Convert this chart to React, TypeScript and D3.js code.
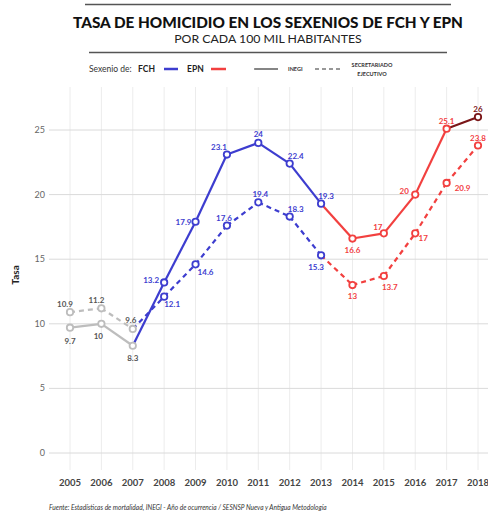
import { useEffect, useRef } from "react";
import * as d3 from "d3";

const years = [2005, 2006, 2007, 2008, 2009, 2010, 2011, 2012, 2013, 2014, 2015, 2016, 2017, 2018];
// INEGI (solid) and Secretariado Ejecutivo (dashed)
const inegi = [9.7, 10, 8.3, 13.2, 17.9, 23.1, 24, 22.4, 19.3, 16.6, 17, 20, 25.1, 26];
const sesnsp = [10.9, 11.2, 9.6, 12.1, 14.6, 17.6, 19.4, 18.3, 15.3, 13, 13.7, 17, 20.9, 23.8];
const yTicks = [0, 5, 10, 15, 20, 25];

// label nudges (dx, dy) per point
const inegiLabelPos = [
  [0, 13], [-3, 12], [0, 12], [-13, -2], [-12, 0], [-8, -8],
  [0, -9], [6, -8], [5, -8], [0, 11], [-6, -6], [-11, -4], [0, -8], [0, -8],
];
const sesnspLabelPos = [
  [-5, -8], [-5, -8], [-2, -9], [8, 7], [10, 8], [-3, -8],
  [2, -8], [6, -8], [-5, 12], [0, 11], [6, 11], [8, 5], [16, 5], [0, -8],
];

const GRAY = "#bdbdbd";
const BLUE = "#3d3dcf";
const RED = "#f2403f";
const DARKRED = "#7a1618";

function pointColor(i: number, solid: boolean) {
  if (i <= 2) return GRAY;
  if (i <= 8) return BLUE;
  if (i === 13 && solid) return DARKRED;
  return RED;
}
function segColor(i: number, solid: boolean) {
  // segment from point i to i+1
  if (i < 2) return GRAY;
  if (i < 8) return BLUE;
  if (i === 12 && solid) return DARKRED;
  return RED;
}

export default function App() {
  const ref = useRef<SVGGElement>(null);

  useEffect(() => {
    const svg = d3.select(ref.current);
    svg.selectAll("*").remove();
    const font = "Lato, 'Open Sans', sans-serif";

    const x = d3.scaleLinear().domain([2005, 2018]).range([70, 478]);
    const y = d3.scaleLinear().domain([0, 25]).range([453, 130]);

    // titles
    svg.append("text").attr("x", 268).attr("y", 28).attr("text-anchor", "middle")
      .attr("font-family", font).attr("font-weight", 900).attr("font-size", 15.3)
      .attr("fill", "#111").text("TASA DE HOMICIDIO EN LOS SEXENIOS DE FCH Y EPN");
    svg.append("text").attr("x", 268).attr("y", 43).attr("text-anchor", "middle")
      .attr("font-family", font).attr("font-size", 12.3)
      .attr("fill", "#222").text("POR CADA 100 MIL HABITANTES");

    // legend
    const lg = svg.append("g").attr("font-family", font);
    lg.append("text").attr("x", 89).attr("y", 72).attr("font-size", 8.5).attr("fill", "#333").text("Sexenio de:");
    lg.append("text").attr("x", 138).attr("y", 72).attr("font-size", 8.5).attr("font-weight", 700).attr("fill", "#222").text("FCH");
    lg.append("line").attr("x1", 164).attr("x2", 178).attr("y1", 69).attr("y2", 69).attr("stroke", BLUE).attr("stroke-width", 2.5);
    lg.append("text").attr("x", 187).attr("y", 72).attr("font-size", 8.5).attr("font-weight", 700).attr("fill", "#222").text("EPN");
    lg.append("line").attr("x1", 211).attr("x2", 226).attr("y1", 69).attr("y2", 69).attr("stroke", RED).attr("stroke-width", 2.5);
    lg.append("line").attr("x1", 254).attr("x2", 278).attr("y1", 69).attr("y2", 69).attr("stroke", "#333").attr("stroke-width", 1.2);
    lg.append("text").attr("x", 288).attr("y", 71).attr("font-size", 5.5).attr("font-weight", 700).attr("fill", "#333").text("INEGI");
    lg.append("line").attr("x1", 315).attr("x2", 341).attr("y1", 69).attr("y2", 69).attr("stroke", "#333")
      .attr("stroke-width", 1.2).attr("stroke-dasharray", "4,3");
    lg.append("text").attr("x", 372).attr("y", 67).attr("text-anchor", "middle").attr("font-size", 5.5).attr("font-weight", 700).attr("fill", "#333").text("SECRETARIADO");
    lg.append("text").attr("x", 372).attr("y", 76).attr("text-anchor", "middle").attr("font-size", 5.5).attr("font-weight", 700).attr("fill", "#333").text("EJECUTIVO");

    // grid
    const grid = svg.append("g");
    grid.selectAll(".vg").data(years).enter().append("line")
      .attr("x1", (d) => x(d)).attr("x2", (d) => x(d)).attr("y1", 87).attr("y2", 470)
      .attr("stroke", "#ececec").attr("stroke-width", 1);
    grid.selectAll(".hg").data(yTicks).enter().append("line")
      .attr("x1", 49).attr("x2", 488).attr("y1", (d) => y(d)).attr("y2", (d) => y(d))
      .attr("stroke", "#dadada").attr("stroke-width", 1);
    grid.selectAll(".yt").data(yTicks).enter().append("text")
      .attr("x", 45).attr("y", (d) => y(d) + 3).attr("text-anchor", "end")
      .attr("font-family", font).attr("font-size", 9).attr("fill", "#666").text((d) => d);
    grid.selectAll(".xt").data(years).enter().append("text")
      .attr("x", (d) => x(d)).attr("y", 486).attr("text-anchor", "middle")
      .attr("font-family", font).attr("font-weight", 700).attr("font-size", 9.5).attr("fill", "#444").text((d) => d);

    svg.append("text").attr("transform", "translate(19,275) rotate(-90)").attr("text-anchor", "middle")
      .attr("font-family", font).attr("font-weight", 700).attr("font-size", 10).attr("fill", "#222").text("Tasa");

    const drawSeries = (vals: number[], solid: boolean, pos: number[][]) => {
      const g = svg.append("g");
      const segs = d3.range(vals.length - 1);
      g.selectAll("line").data(segs).enter().append("line")
        .attr("x1", (i) => x(years[i])).attr("y1", (i) => y(vals[i]))
        .attr("x2", (i) => x(years[i + 1])).attr("y2", (i) => y(vals[i + 1]))
        .attr("stroke", (i) => segColor(i, solid))
        .attr("stroke-width", 2.2)
        .attr("stroke-dasharray", solid ? null : "5,4");
      g.selectAll("circle").data(vals).enter().append("circle")
        .attr("cx", (_, i) => x(years[i])).attr("cy", (d) => y(d)).attr("r", 3.2)
        .attr("fill", "white").attr("stroke", (_, i) => pointColor(i, solid)).attr("stroke-width", 1.8);
      g.selectAll("text").data(vals).enter().append("text")
        .attr("x", (_, i) => x(years[i]) + pos[i][0])
        .attr("y", (d, i) => y(d) + pos[i][1] + 3)
        .attr("text-anchor", "middle")
        .attr("font-family", font).attr("font-weight", 700).attr("font-size", 8)
        .attr("fill", (_, i) => (i <= 2 ? "#555" : pointColor(i, solid)))
        .text((d) => d);
    };
    drawSeries(sesnsp, false, sesnspLabelPos);
    drawSeries(inegi, true, inegiLabelPos);

    svg.append("text").attr("x", 49).attr("y", 510)
      .attr("font-family", font).attr("font-style", "italic").attr("font-size", 6.6).attr("fill", "#333")
      .text("Fuente: Estadísticas de mortalidad, INEGI - Año de ocurrencia / SESNSP Nueva y Antigua Metodología");
  }, []);

  // header rules are static, kept in JSX
  return (
    <svg width={488} height={512}
      style={{ position: "absolute", left: 0, top: 0, background: "white" }}>
      <path d="M85,4.5H451" stroke="#555" strokeWidth={1.6} fill="none" />
      <path d="M89,52.5H447" stroke="#555" strokeWidth={1.6} fill="none" />
      <g ref={ref} />
    </svg>
  );
}
